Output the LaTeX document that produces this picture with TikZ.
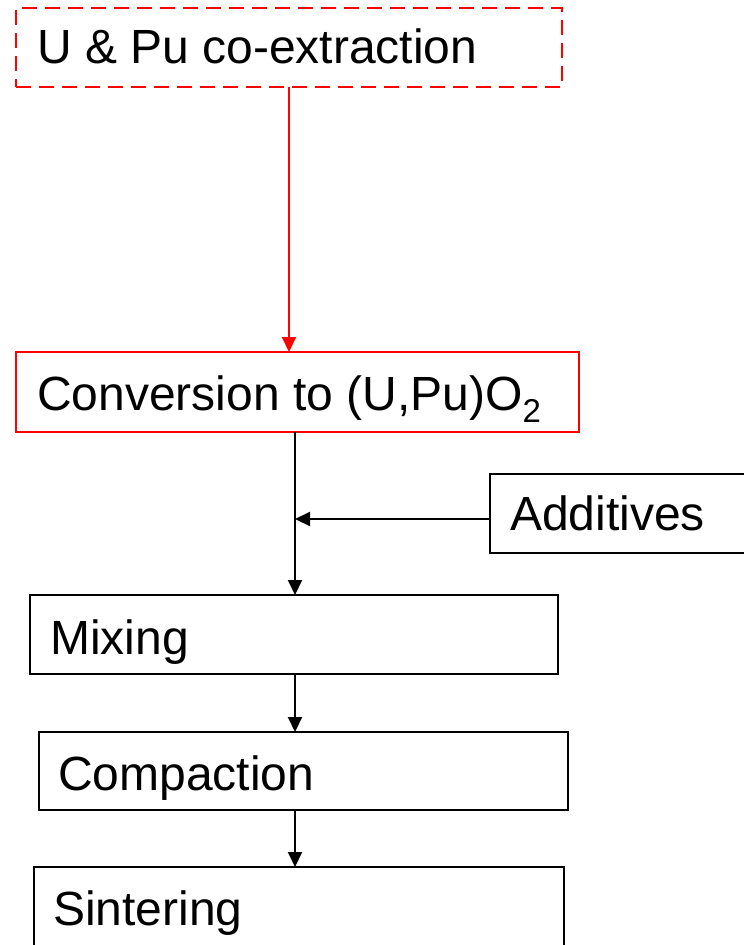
\documentclass[tikz,border=0pt]{standalone}
\usepackage{fontspec}
\setmainfont{Liberation Sans}
\usetikzlibrary{arrows.meta}

\begin{document}
\begin{tikzpicture}[x=1pt, y=-1pt, font=\fontsize{48}{57}\selectfont,
  stepbox/.style={draw, line width=2.2pt, anchor=north west, inner sep=0pt, outer sep=0pt, minimum height=79pt},
  redbox/.style={stepbox, draw=red},
  steptext/.style={anchor=base west, inner sep=0pt},
  flow/.style={line width=2pt, -{Triangle[width=14pt, length=15pt]}}]
\useasboundingbox (0,0) rectangle (744,945);
\clip (0,0) rectangle (744,945);

% red part
\node[redbox, dash pattern=on 15pt off 8pt, minimum width=546pt] (extract) at (16,8) {};
\node[steptext] (extracttext) at (37,63) {U \& Pu co-extraction};
\node[redbox, minimum width=563pt, minimum height=80pt] (convert) at (16,352) {};
\node[steptext] (converttext) at (37,410) {Conversion to (U,Pu)O\raisebox{-12pt}{\fontsize{33}{40}\selectfont 2}};
\draw[flow, red] (extract.south) -- (extract.south |- convert.north);

% additives
\node[stepbox, minimum width=280pt] (additives) at (490,474) {};
\node[steptext] (additivestext) at (510,530) {Additives};

% black part
\node[stepbox, minimum width=528pt] (mixing) at (30,595) {};
\node[steptext] (mixingtext) at (50,654) {Mixing};
\node[stepbox, minimum width=529pt, minimum height=78pt] (compaction) at (39,732) {};
\node[steptext] (compactiontext) at (58,790) {Compaction};
\node[stepbox, minimum width=530pt, minimum height=100pt] (sintering) at (34,867) {};
\node[steptext] (sinteringtext) at (53,925) {Sintering};

\coordinate (trunk) at ([xshift=-2.5pt]convert.south);
\coordinate (feed) at ([yshift=-5.5pt]trunk |- additives.west);
\draw[flow] ([yshift=-5.5pt]additives.west) -- (feed);
\draw[flow] (trunk) -- (trunk |- mixing.north);
\draw[flow] (trunk |- mixing.south) -- (trunk |- compaction.north);
\draw[flow] (trunk |- compaction.south) -- (trunk |- sintering.north);
\end{tikzpicture}
\end{document}
